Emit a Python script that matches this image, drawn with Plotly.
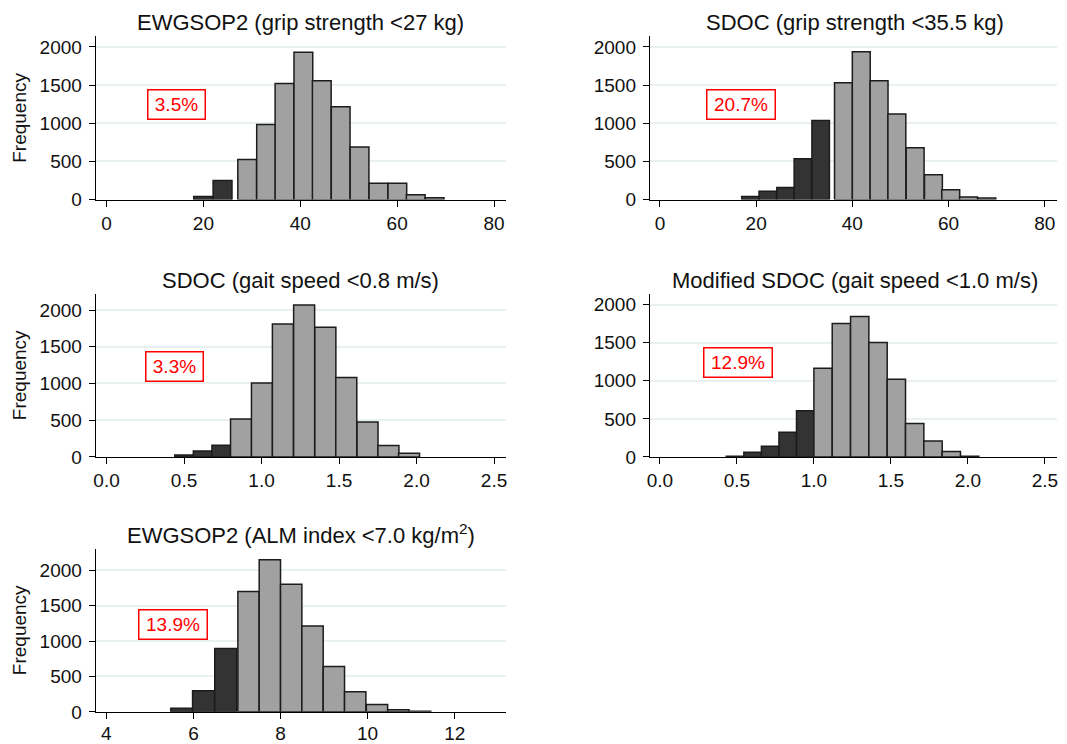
import plotly.graph_objects as go

# ---------------- data ----------------
titles = [
    "EWGSOP2 (grip strength <27 kg)",
    "SDOC (grip strength <35.5 kg)",
    "SDOC (gait speed <0.8 m/s)",
    "Modified SDOC (gait speed <1.0 m/s)",
    "EWGSOP2 (ALM index <7.0 kg/m<sup>2</sup>)",
]
prevalence = ["3.5%", "20.7%", "3.3%", "12.9%", "13.9%"]

# panel 1: EWGSOP2 grip strength
p1_low_edges = [18.0, 22.0]
p1_low_width = 3.9
p1_low_counts = [40, 250]
p1_high_edges = [27.1, 31.0, 34.8, 38.7, 42.5, 46.4, 50.3, 54.2, 58.1, 61.9, 65.8]
p1_high_width = 3.87
p1_high_counts = [525, 985, 1520, 1930, 1555, 1215, 690, 215, 215, 65, 25]

# panel 2: SDOC grip strength
p2_low_edges = [17.0, 20.6, 24.3, 27.9, 31.6]
p2_low_width = 3.64
p2_low_counts = [40, 110, 160, 535, 1035]
p2_high_edges = [36.3, 40.0, 43.7, 47.4, 51.2, 55.0, 58.6, 62.3, 66.1]
p2_high_width = 3.72
p2_high_counts = [1530, 1935, 1555, 1120, 680, 325, 130, 35, 20]

# panel 3: SDOC gait speed
p3_low_edges = [0.44, 0.56, 0.68]
p3_low_width = 0.12
p3_low_counts = [25, 80, 160]
p3_high_edges = [0.80, 0.935, 1.07, 1.207, 1.344, 1.479, 1.616, 1.751, 1.884]
p3_high_width = 0.1355
p3_high_counts = [515, 1005, 1810, 2070, 1765, 1080, 475, 155, 50]

# panel 4: Modified SDOC gait speed
p4_low_edges = [0.431, 0.545, 0.659, 0.773, 0.887]
p4_low_width = 0.114
p4_low_counts = [10, 60, 140, 325, 605]
p4_high_edges = [1.0, 1.119, 1.238, 1.357, 1.476, 1.595, 1.714, 1.833, 1.952]
p4_high_width = 0.119
p4_high_counts = [1165, 1755, 1845, 1505, 1020, 440, 210, 70, 10]

# panel 5: EWGSOP2 ALM index
p5_low_edges = [5.48, 5.98, 6.49]
p5_low_width = 0.505
p5_low_counts = [50, 300, 895]
p5_high_edges = [7.02, 7.51, 8.0, 8.49, 8.98, 9.47, 9.97, 10.46, 10.96]
p5_high_width = 0.49
p5_high_counts = [1700, 2150, 1805, 1215, 640, 285, 105, 30, 10]

y_ticks = [0, 500, 1000, 1500, 2000]
x_ticks_grip = [0, 20, 40, 60, 80]
x_ticks_gait = [0.0, 0.5, 1.0, 1.5, 2.0, 2.5]
x_ticks_alm = [4, 6, 8, 10, 12]

# ---------------- style / layout ----------------
FONT = "Liberation Sans"
DARK = "#333333"
LIGHT = "#a1a1a1"
EDGE = "#1c1c1c"
GRID = "#e9f0f2"
OFF = 8                     # page body margin in the browser
SY = 744 / 756              # observed vertical scale of the capture
W, H = 1059, 740


def fx(px):
    return (px - OFF) / W


def fy(py):
    return 1 - (py / SY - OFF) / H


panels = [
    dict(low=(p1_low_edges, p1_low_width, p1_low_counts),
         high=(p1_high_edges, p1_high_width, p1_high_counts),
         xr=[-2.2, 82.4], yr=[0, 2140], xt=x_ticks_grip, fmt=None,
         px=(93.3, 505), py=(36, 199.3), ann=(14.5, 1240), ylab=True),
    dict(low=(p2_low_edges, p2_low_width, p2_low_counts),
         high=(p2_high_edges, p2_high_width, p2_high_counts),
         xr=[-2.07, 82.56], yr=[0, 2140], xt=x_ticks_grip, fmt=None,
         px=(650, 1059), py=(36, 199.3), ann=(16.9, 1240), ylab=False),
    dict(low=(p3_low_edges, p3_low_width, p3_low_counts),
         high=(p3_high_edges, p3_high_width, p3_high_counts),
         xr=[-0.0687, 2.575], yr=[0, 2223], xt=x_ticks_gait, fmt=".1f",
         px=(93.3, 505), py=(293.3, 456.3), ann=(0.439, 1229), ylab=True),
    dict(low=(p4_low_edges, p4_low_width, p4_low_counts),
         high=(p4_high_edges, p4_high_width, p4_high_counts),
         xr=[-0.0646, 2.579], yr=[0, 2145], xt=x_ticks_gait, fmt=".1f",
         px=(650, 1059), py=(293.3, 456.3), ann=(0.509, 1243), ylab=False),
    dict(low=(p5_low_edges, p5_low_width, p5_low_counts),
         high=(p5_high_edges, p5_high_width, p5_high_counts),
         xr=[3.76, 13.17], yr=[0, 2307], xt=x_ticks_alm, fmt=None,
         px=(93.3, 505), py=(548, 711), ann=(5.52, 1233), ylab=True),
]

fig = go.Figure()
layout = dict(
    width=W, height=H,
    margin=dict(l=0, r=0, t=0, b=0),
    paper_bgcolor="white", plot_bgcolor="white",
    showlegend=False, barmode="overlay",
    font=dict(family=FONT, size=19, color="#111111"),
)
annotations = []

for i, p in enumerate(panels):
    n = "" if i == 0 else str(i + 1)
    xa, ya = "x" + n, "y" + n
    for (edges, width, counts), color in ((p["low"], DARK), (p["high"], LIGHT)):
        fig.add_trace(go.Bar(
            x=edges, y=counts, width=width, offset=0,
            marker=dict(color=color, line=dict(color=EDGE, width=1.5)),
            xaxis=xa, yaxis=ya,
        ))
    xdom = [fx(p["px"][0]), min(1, fx(p["px"][1]))]
    ydom = [fy(p["py"][1]), fy(p["py"][0])]
    layout["xaxis" + n] = dict(
        domain=xdom, range=p["xr"], anchor=ya,
        tickmode="array", tickvals=p["xt"],
        tickformat=p["fmt"] if p["fmt"] else None,
        showgrid=False, zeroline=False,
        showline=True, linecolor="black", linewidth=1.4,
        ticks="outside", ticklen=6, tickwidth=1.4, tickcolor="black",
        ticklabelstandoff=-2 if i == 4 else 0,
        tickfont=dict(size=19), fixedrange=True,
    )
    yax = dict(
        domain=ydom, range=p["yr"], anchor=xa,
        tickmode="array", tickvals=y_ticks,
        showgrid=True, gridcolor=GRID, gridwidth=1.5, zeroline=False,
        showline=True, linecolor="black", linewidth=1.4,
        ticks="outside", ticklen=6, tickwidth=1.4, tickcolor="black",
        ticklabelstandoff=3,
        tickfont=dict(size=19), fixedrange=True,
    )
    if p["ylab"]:
        yax["title"] = dict(text="Frequency", standoff=7, font=dict(size=19))
    layout["yaxis" + n] = yax
    # panel title (centred over the plot area)
    cx = (p["px"][0] + 505) / 2 if i % 2 == 0 else (650 + 1063) / 2
    annotations.append(dict(
        text=titles[i], xref="paper", yref="paper",
        x=fx(cx), y=ydom[1], xanchor="center",
        yanchor="bottom", yshift=-1, showarrow=False,
        font=dict(size=22, color="#111111"),
    ))
    # prevalence box
    annotations.append(dict(
        text=prevalence[i], xref=xa, yref=ya,
        x=p["ann"][0], y=p["ann"][1], xanchor="center", yanchor="middle",
        showarrow=False, font=dict(size=19, color="#ff0000"),
        bordercolor="#ff0000", borderwidth=1.5, borderpad=4,
        bgcolor="white", width=48 if len(prevalence[i]) == 4 else 59,
        height=20,
    ))

layout["annotations"] = annotations
fig.update_layout(**layout)
fig.write_html("out.html")
